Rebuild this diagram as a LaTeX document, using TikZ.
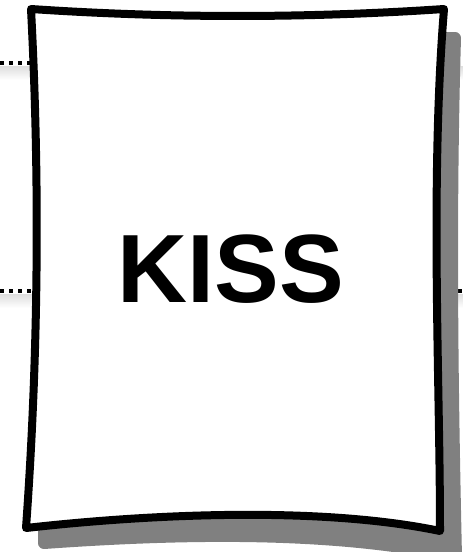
\documentclass[tikz,border=0pt]{standalone}
\usepackage{fontspec}
\setmainfont{Liberation Sans}
\begin{document}
\begin{tikzpicture}[x=1pt,y=-1pt,
  cardline/.style={draw=black,fill=white,line width=8pt,line join=round},
  shadowline/.style={draw=shadowgray,fill=shadowgray,line width=12pt,line join=round},
  dotline/.style={line width=4.5pt,dash pattern=on 4pt off 5pt},
  fadeband/.style={top color=black!13,bottom color=white,draw=none}]
\definecolor{shadowgray}{RGB}{128,128,128}
\useasboundingbox (0,0) rectangle (463,552);
\clip (0,0) rectangle (463,552);
% faint bands under the lines
\shade[fadeband] (0,66) rectangle (463,80);
\shade[fadeband] (0,294) rectangle (463,308);
% dotted lines passing behind the card
\coordinate (l1a) at (0,63);
\coordinate (l1b) at (40,63);
\coordinate (l2a) at (0,291);
\coordinate (l2b) at (40,291);
\coordinate (r2a) at (440,291);
\coordinate (r2b) at (463,291);
\draw[dotline] (l1a) -- (l1b);
\draw[dotline] (l2a) -- (l2b);
\draw[dotline] (r2a) -- (r2b);
% shadow
\coordinate (stl) at (50,40);
\coordinate (str) at (455,38);
\coordinate (sbr) at (456,557);
\coordinate (sbl) at (44,543);
\path[shadowline] (stl) -- (str)
  .. controls (450,210) and (452,380) .. (sbr)
  .. controls (330,529) and (170,534) .. (sbl) -- cycle;
% card
\coordinate (tl) at (31,9);
\coordinate (tr) at (444,9);
\coordinate (br) at (440,531);
\coordinate (bl) at (26,528);
\path[cardline] (tl) .. controls (169,18.3) and (306,18.3) .. (tr)
  .. controls (430,183) and (440,380) .. (br)
  .. controls (320,506) and (150,514) .. (bl)
  .. controls (38.4,355) and (40,182) .. cycle;
\node[font=\fontsize{97}{97}\selectfont\bfseries,inner sep=0pt,anchor=base] (kiss) at (231,302) {KISS};
\end{tikzpicture}
\end{document}
